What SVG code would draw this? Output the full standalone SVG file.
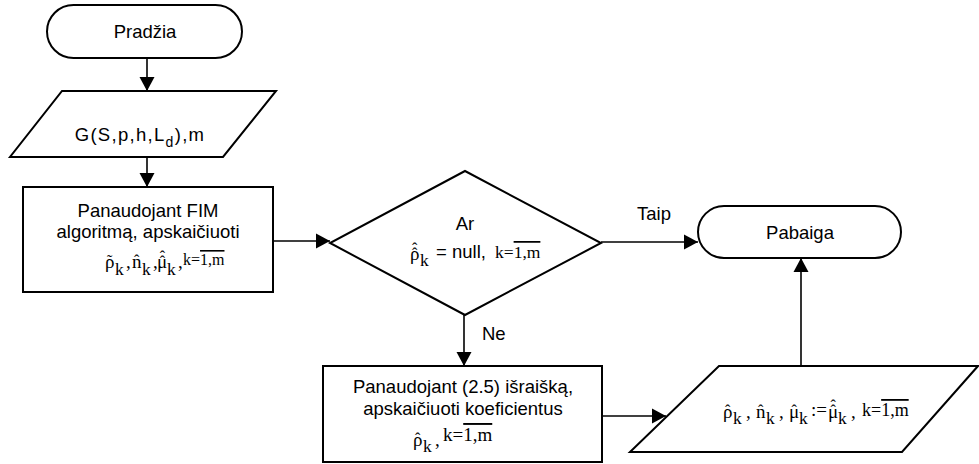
<svg xmlns="http://www.w3.org/2000/svg" width="979" height="464" viewBox="0 0 979 464">
  <style>
    .sh { fill: #fff; stroke: #000; stroke-width: 2; }
    .t { font-family: "Liberation Sans", Arial, sans-serif; font-size: 18.5px; fill: #000; }
    .f { font-family: "Liberation Serif", "Times New Roman", serif; font-size: 19px; fill: #000; }
    .s { font-size: 17.5px; }
    .h { font-size: 16px; }
    .mid { text-anchor: middle; }
    .ol { text-decoration: overline; }
    .c { stroke: #000; stroke-width: 1.6; fill: none; marker-end: url(#ah); }
  </style>
  <defs>
    <marker id="ah" markerUnits="userSpaceOnUse" markerWidth="15" markerHeight="16" refX="14" refY="8" orient="auto">
      <path d="M0,0.5 L14,8 L0,15.5 z" fill="#000"/>
    </marker>
  </defs>

  <!-- connectors -->
  <g id="connectors">
    <line class="c" x1="147" y1="58" x2="147" y2="91"/>
    <line class="c" x1="147" y1="157" x2="147" y2="187"/>
    <line class="c" x1="273" y1="241" x2="330" y2="241"/>
    <line class="c" x1="601" y1="242" x2="698" y2="242"/>
    <line class="c" x1="464" y1="315" x2="464" y2="366"/>
    <line class="c" x1="602" y1="416" x2="666" y2="416"/>
    <line class="c" x1="801" y1="366" x2="801" y2="258"/>
    <text class="t" x="637" y="220">Taip</text>
    <text class="t" x="482" y="340">Ne</text>
  </g>

  <!-- start terminal -->
  <g id="start">
    <rect class="sh" x="47" y="5" width="195" height="53" rx="26.5" ry="26.5"/>
    <text class="t mid" x="145" y="38">Pradžia</text>
  </g>

  <!-- input data -->
  <g id="input">
    <polygon class="sh" points="62,91 276,91 223,157 10,157"/>
    <text class="t mid" x="140" y="141" letter-spacing="1.3">G(S,p,h,L<tspan font-size="14" dy="6">d</tspan><tspan dy="-6">),m</tspan></text>
  </g>

  <!-- FIM step -->
  <g id="fim">
    <rect class="sh" x="23" y="187" width="250" height="105"/>
    <text class="t mid" x="148" y="217">Panaudojant FIM</text>
    <text class="t mid" x="148" y="238">algoritmą, apskaičiuoti</text>
    <text class="f"><tspan x="105" y="268">ρ</tspan><tspan class="s" x="115" y="275">k</tspan><tspan x="126" y="268">,</tspan><tspan x="132" y="268">n</tspan><tspan class="s" x="142" y="275">k</tspan><tspan x="153" y="268">,</tspan><tspan x="157" y="268">μ</tspan><tspan class="s" x="167" y="275">k</tspan><tspan x="178" y="268">,</tspan><tspan font-size="16" x="183" y="265">k=<tspan class="ol">1,m</tspan></tspan><tspan class="h" x="107" y="266">˜</tspan><tspan class="h" x="134" y="266">ˆ</tspan><tspan class="h" x="159.8" y="267">ˆ</tspan><tspan class="h" x="159.8" y="262">ˆ</tspan></text>
  </g>

  <!-- decision -->
  <g id="decision">
    <polygon class="sh" points="465,171 601,243 465,315 330,243"/>
    <text class="t mid" x="465" y="230">Ar</text>
    <text class="f"><tspan x="410" y="260">ρ</tspan><tspan class="s" x="420" y="266">k</tspan><tspan class="t" x="436" y="258">= null,</tspan><tspan class="s" x="495" y="258">k=<tspan class="ol">1,m</tspan></tspan><tspan class="h" x="412" y="259">ˆ</tspan><tspan class="h" x="412" y="254">ˆ</tspan></text>
  </g>

  <!-- end terminal -->
  <g id="end">
    <rect class="sh" x="698" y="206" width="203" height="52" rx="26" ry="26"/>
    <text class="t mid" x="800" y="239">Pabaiga</text>
  </g>

  <!-- coefficient step -->
  <g id="coef">
    <rect class="sh" x="323" y="366" width="279" height="96"/>
    <text class="t mid" x="463" y="393">Panaudojant (2.5) išraišką,</text>
    <text class="t mid" x="463" y="415">apskaičiuoti koeficientus</text>
    <text class="f"><tspan x="413" y="446">ρ</tspan><tspan class="s" x="423" y="452">k</tspan><tspan x="435" y="446">,</tspan><tspan font-size="19" x="443" y="441">k=<tspan class="ol">1,m</tspan></tspan><tspan class="h" x="415" y="444">ˆ</tspan></text>
  </g>

  <!-- result assignment -->
  <g id="assign">
    <polygon class="sh" points="719,366 978,366 902,452 630,452"/>
    <text class="f"><tspan x="723" y="418">ρ</tspan><tspan class="s" x="733" y="424">k</tspan><tspan x="746" y="418">,</tspan><tspan x="756" y="418">n</tspan><tspan class="s" x="766" y="424">k</tspan><tspan x="779" y="418">,</tspan><tspan x="789" y="418">μ</tspan><tspan class="s" x="799" y="424">k</tspan><tspan x="811" y="416">:=</tspan><tspan x="828" y="418">μ</tspan><tspan class="s" x="838" y="424">k</tspan><tspan x="851" y="418">,</tspan><tspan font-size="18" x="862" y="416">k=<tspan class="ol">1,m</tspan></tspan><tspan class="h" x="725" y="416">ˆ</tspan><tspan class="h" x="758" y="416">ˆ</tspan><tspan class="h" x="791.5" y="416">ˆ</tspan><tspan class="h" x="830.5" y="416">ˆ</tspan><tspan class="h" x="830.5" y="411">ˆ</tspan></text>
  </g>
</svg>
